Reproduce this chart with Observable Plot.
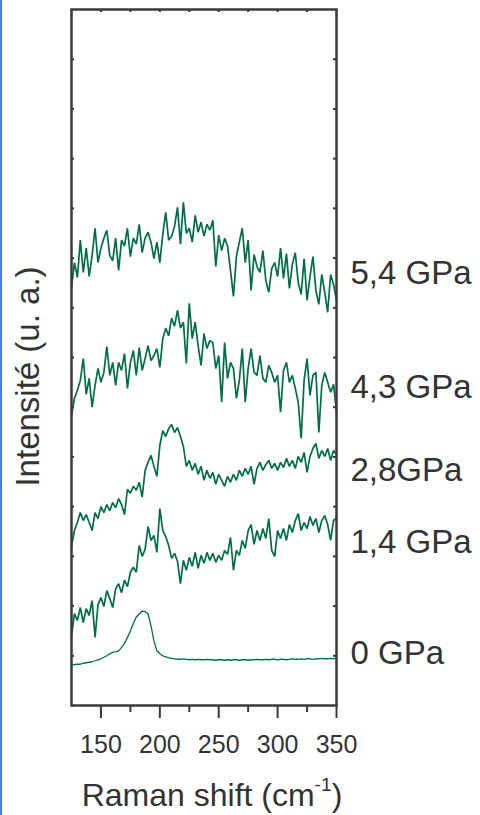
<!DOCTYPE html>
<html>
<head>
<meta charset="utf-8">
<script src="https://cdn.jsdelivr.net/npm/d3@7"></script>
<script src="https://cdn.jsdelivr.net/npm/@observablehq/plot@0.6"></script>
<style>
html, body { margin: 0; padding: 0; background: #fff; }
#edge { position: absolute; left: 0; top: 0; width: 2px; height: 815px; background: #4a7fd4; }
#chart { position: absolute; left: 0; top: 0; }
</style>
</head>
<body>
<div id="chart"></div>
<div id="edge"></div>
<script>
// Raman shift (cm-1) sample positions
const shift = [125,127.5,130,132.5,135,137.5,140,142.5,145,147.5,150,152.5,155,157.5,160,162.5,165,167.5,170,172.5,175,177.5,180,182.5,185,187.5,190,192.5,195,197.5,200,202.5,205,207.5,210,212.5,215,217.5,220,222.5,225,227.5,230,232.5,235,237.5,240,242.5,245,247.5,250,252.5,255,257.5,260,262.5,265,267.5,270,272.5,275,277.5,280,282.5,285,287.5,290,292.5,295,297.5,300,302.5,305,307.5,310,312.5,315,317.5,320,322.5,325,327.5,330,332.5,335,337.5,340,342.5,345,347.5,350];

// Intensities (a.u., offset stacked)
const p0 = [0.81,0.82,0.83,0.83,0.85,0.86,0.87,0.88,0.90,0.92,
 0.94,0.97,1.00,1.04,1.07,1.08,1.10,1.17,1.25,1.37,
 1.50,1.65,1.78,1.84,1.90,1.89,1.84,1.60,1.30,1.10,
 1.04,1.00,0.98,0.96,0.95,0.94,0.93,0.93,0.94,0.93,
 0.92,0.93,0.92,0.93,0.92,0.92,0.93,0.92,0.92,0.91,
 0.92,0.92,0.91,0.92,0.91,0.92,0.92,0.91,0.92,0.92,
 0.91,0.92,0.92,0.93,0.92,0.92,0.93,0.92,0.93,0.93,
 0.92,0.93,0.93,0.92,0.93,0.94,0.93,0.93,0.94,0.93,
 0.94,0.94,0.93,0.94,0.94,0.95,0.94,0.94,0.95,0.94,
 0.96];

const p14 = [1.41,1.85,1.71,1.97,1.67,1.95,1.81,2.11,1.37,2.03,
 2.17,1.99,2.31,2.15,1.97,2.35,2.45,2.27,2.52,2.39,
 2.68,2.78,2.68,3.22,3.00,3.14,3.60,3.32,3.42,3.08,
 3.96,3.52,3.40,3.22,2.96,3.06,2.90,2.45,2.92,2.72,
 2.98,2.80,3.08,2.76,3.02,2.86,3.08,2.92,3.06,2.88,
 3.02,2.92,3.12,3.04,3.38,2.72,3.12,3.02,3.32,3.16,
 3.52,3.64,3.24,3.52,3.32,3.56,3.36,3.76,3.12,3.00,
 3.52,3.36,3.56,3.32,3.64,3.48,3.72,3.86,3.52,3.68,
 3.56,3.80,3.62,3.76,3.48,3.72,3.82,3.64,3.32,3.72,
 3.78];

const p28 = [3.20,3.52,3.68,3.88,3.72,3.84,3.68,3.52,3.88,3.76,
 4.00,3.88,4.04,3.92,4.08,3.98,4.16,4.04,3.84,4.35,
 4.27,4.41,4.33,4.49,4.19,4.73,4.89,5.03,4.81,4.61,
 5.23,5.53,5.41,5.57,5.65,5.49,5.59,5.41,5.21,4.81,
 4.93,4.73,4.87,4.65,4.81,4.53,4.73,4.57,4.69,4.45,
 4.65,4.53,4.41,4.61,4.49,4.65,4.53,4.73,4.61,4.77,
 4.65,4.81,4.45,4.77,4.89,4.73,4.85,4.93,4.77,4.87,
 4.73,4.89,4.79,4.97,4.81,4.93,4.77,5.01,4.89,5.09,
 4.69,5.01,5.17,5.27,4.97,5.13,5.01,5.17,4.93,5.13,
 5.05];

const p43 = [5.84,6.18,6.34,6.54,6.98,6.26,6.58,6.00,6.44,6.78,
 6.50,6.70,7.22,6.64,6.90,6.44,6.90,6.74,7.08,6.38,
 6.90,7.14,6.64,7.20,6.74,6.98,7.24,6.94,7.04,7.18,
 6.80,7.38,7.59,7.44,7.79,7.63,7.95,7.59,7.71,6.88,
 8.09,7.38,7.71,7.24,6.84,7.48,7.18,7.34,7.30,6.78,
 7.04,6.10,7.30,6.58,6.90,6.78,6.18,6.54,7.18,6.10,
 6.78,7.18,6.70,6.64,7.04,6.58,6.50,6.84,6.70,6.50,
 6.64,5.90,6.74,6.90,6.50,6.64,6.38,6.10,5.37,6.54,
 6.98,6.24,6.64,6.70,5.49,6.44,6.70,6.50,6.30,6.46,
 5.90];

const p54 = [8.41,8.91,8.61,9.36,8.71,9.20,8.63,9.05,9.60,8.91,
 9.20,9.40,9.56,9.05,8.95,9.40,8.75,9.36,9.24,9.60,
 9.03,9.40,9.28,9.68,9.11,9.40,9.52,9.32,8.99,9.32,
 8.91,9.48,9.92,9.36,9.44,9.64,10.02,9.28,10.12,9.50,
 9.60,9.32,9.86,9.52,9.72,9.44,9.68,9.56,9.76,8.83,
 9.46,9.15,9.40,9.24,8.75,8.23,9.03,9.32,9.60,8.91,
 9.36,8.35,9.07,8.83,8.71,9.15,8.55,8.31,8.79,8.91,
 8.63,9.20,8.59,9.09,8.39,8.87,9.11,8.51,8.27,8.99,
 8.15,8.63,9.03,8.35,8.07,8.67,8.31,7.91,8.67,8.47,
 8.15];

const pressureLabels = ["5,4 GPa", "4,3 GPa", "2,8GPa", "1,4 GPa", "0 GPa"];
const labelLevels = [8.70, 6.40, 4.73, 3.29, 1.04];

const majorTicks = [150, 200, 250, 300, 350];
const minorTicks = [175, 225, 275, 325];
const allXTicks = [125, 150, 175, 200, 225, 250, 275, 300, 325, 350];
const yTicks = [1,2,3,4,5,6,7,8,9,10,11,12,13];

const xLabelParts = ["Raman shift (cm", "-1", ")"];
const yLabel = "Intensité (u. a.)";

const seriesList = [
  {name: "5,4 GPa", values: p54},
  {name: "4,3 GPa", values: p43},
  {name: "2,8GPa", values: p28},
  {name: "1,4 GPa", values: p14},
  {name: "0 GPa", values: p0}
];
const rows = seriesList.flatMap(s => s.values.map((v, i) => ({pressure: s.name, shift: shift[i], intensity: v})));

const axisColor = "#3a3a3a";
const green = "#006e46";

const chart = Plot.plot({
  width: 480,
  height: 815,
  marginLeft: 71,
  marginRight: 144,
  marginTop: 9,
  marginBottom: 110,
  x: {domain: [125, 350], axis: null},
  y: {domain: [0, 14], axis: null},
  style: {fontFamily: "'Liberation Sans', Arial, Helvetica, sans-serif", color: "#333", background: "white", overflow: "visible"},
  marks: [
    Plot.line(rows.filter(r => r.pressure !== "0 GPa"), {x: "shift", y: "intensity", z: "pressure", stroke: green, strokeWidth: 1.7, strokeLinejoin: "miter"}),
    Plot.line(rows.filter(r => r.pressure === "0 GPa"), {x: "shift", y: "intensity", stroke: green, strokeWidth: 1.3}),
    // inward ticks: top, left, right
    Plot.tickX(allXTicks, {x: d => d, insetBottom: 693, stroke: axisColor, strokeWidth: 2}),
    Plot.tickY(yTicks, {y: d => d, insetRight: 262, stroke: axisColor, strokeWidth: 2}),
    Plot.tickY(yTicks, {y: d => d, insetLeft: 262, stroke: axisColor, strokeWidth: 2}),
    // outward bottom ticks
    Plot.tickX(minorTicks, {x: d => d, insetTop: 696, insetBottom: -7, stroke: axisColor, strokeWidth: 2}),
    Plot.tickX(majorTicks, {x: d => d, insetTop: 696, insetBottom: -13, stroke: axisColor, strokeWidth: 2}),
    Plot.text(majorTicks, {x: d => d, frameAnchor: "bottom", dy: 30, lineAnchor: "top", fontSize: 25, text: d => String(d)}),
    Plot.frame({stroke: axisColor, strokeWidth: 2.5}),
    // pressure labels
    Plot.text(pressureLabels, {y: (d, i) => labelLevels[i], frameAnchor: "right", textAnchor: "start", dx: 14, fontSize: 33, text: d => d}),
    // axis titles
    Plot.text([xLabelParts.join("")], {frameAnchor: "bottom", textAnchor: "middle", dx: 8, dy: 100, lineAnchor: "bottom", fontSize: 32, text: d => d}),
    Plot.text([yLabel], {frameAnchor: "left", textAnchor: "middle", rotate: -90, dx: -33, dy: 19, lineAnchor: "bottom", fontSize: 33, text: d => d})
  ]
});

document.getElementById("chart").appendChild(chart);

// superscript for cm-1
d3.select(chart).selectAll("text").filter(function () { return this.textContent === xLabelParts.join(""); })
  .each(function () {
    const t = d3.select(this);
    t.text(null);
    t.append("tspan").text(xLabelParts[0]);
    t.append("tspan").attr("dy", "-0.75em").attr("font-size", "0.6em").text(xLabelParts[1]);
    t.append("tspan").attr("dy", "0.45em").text(xLabelParts[2]);
  });
</script>
</body>
</html>
